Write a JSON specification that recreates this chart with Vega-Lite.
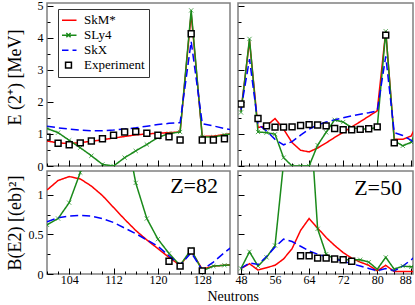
{
  "$schema": "https://vega.github.io/schema/vega-lite/v6.json",
  "padding": {"left": 5, "top": -2, "right": 0, "bottom": 0},
  "bounds": "flush",
  "config": {
    "font": "Liberation Serif",
    "view": {"stroke": "#808080", "strokeWidth": 1.5},
    "axis": {"domain": false, "grid": false, "labelFont": "Liberation Serif", "labelFontSize": 12, "labelColor": "#000", "tickColor": "#000", "tickWidth": 1, "titleFont": "Liberation Serif", "titleFontWeight": "normal", "titleColor": "#000", "labelOverlap": false, "labelFlush": false, "labelBound": false, "tickCount": 100},
    "legend": {"labelFont": "Liberation Serif", "labelFontSize": 13, "labelColor": "#000"},
    "title": {"font": "Liberation Serif", "fontWeight": "normal", "fontSize": 22, "color": "#000"}
  },
  "datasets": {
    "tl": [
      {"s":"SkM*","N":100,"v":0.78},{"s":"SkM*","N":102,"v":0.72},{"s":"SkM*","N":104,"v":0.70},{"s":"SkM*","N":106,"v":0.73},{"s":"SkM*","N":108,"v":0.77},{"s":"SkM*","N":110,"v":0.82},{"s":"SkM*","N":112,"v":0.87},{"s":"SkM*","N":114,"v":0.92},{"s":"SkM*","N":116,"v":0.97},{"s":"SkM*","N":118,"v":1.0},{"s":"SkM*","N":120,"v":1.02},{"s":"SkM*","N":122,"v":1.04},{"s":"SkM*","N":124,"v":1.06},{"s":"SkM*","N":126,"v":4.75},{"s":"SkM*","N":128,"v":0.92},{"s":"SkM*","N":130,"v":0.93},{"s":"SkM*","N":132,"v":0.98},{"s":"SkM*","N":134,"v":1.02},
      {"s":"SLy4","N":100,"v":1.17},{"s":"SLy4","N":102,"v":1.04},{"s":"SLy4","N":104,"v":0.8},{"s":"SLy4","N":106,"v":0.57},{"s":"SLy4","N":108,"v":0.32},{"s":"SLy4","N":110,"v":0.05},{"s":"SLy4","N":112,"v":0.0},{"s":"SLy4","N":114,"v":0.26},{"s":"SLy4","N":116,"v":0.47},{"s":"SLy4","N":118,"v":0.67},{"s":"SLy4","N":120,"v":0.89},{"s":"SLy4","N":122,"v":1.01},{"s":"SLy4","N":124,"v":1.06},{"s":"SLy4","N":126,"v":4.85},{"s":"SLy4","N":128,"v":0.9},{"s":"SLy4","N":130,"v":0.9},{"s":"SLy4","N":132,"v":0.97},{"s":"SLy4","N":134,"v":1.02},
      {"s":"SkX","N":100,"v":1.24},{"s":"SkX","N":102,"v":1.19},{"s":"SkX","N":104,"v":1.15},{"s":"SkX","N":106,"v":1.12},{"s":"SkX","N":108,"v":1.1},{"s":"SkX","N":110,"v":1.1},{"s":"SkX","N":112,"v":1.12},{"s":"SkX","N":114,"v":1.15},{"s":"SkX","N":116,"v":1.19},{"s":"SkX","N":118,"v":1.24},{"s":"SkX","N":120,"v":1.29},{"s":"SkX","N":122,"v":1.33},{"s":"SkX","N":124,"v":1.35},{"s":"SkX","N":126,"v":3.88},{"s":"SkX","N":128,"v":1.32},{"s":"SkX","N":130,"v":1.25},{"s":"SkX","N":132,"v":1.17},{"s":"SkX","N":134,"v":1.1},
      {"s":"Experiment","N":100,"v":0.9},{"s":"Experiment","N":102,"v":0.71},{"s":"Experiment","N":104,"v":0.66},{"s":"Experiment","N":106,"v":0.72},{"s":"Experiment","N":108,"v":0.78},{"s":"Experiment","N":110,"v":0.85},{"s":"Experiment","N":112,"v":0.96},{"s":"Experiment","N":114,"v":1.06},{"s":"Experiment","N":116,"v":1.07},{"s":"Experiment","N":118,"v":1.02},{"s":"Experiment","N":120,"v":0.96},{"s":"Experiment","N":122,"v":0.91},{"s":"Experiment","N":124,"v":0.81},{"s":"Experiment","N":126,"v":4.12},{"s":"Experiment","N":128,"v":0.81},{"s":"Experiment","N":130,"v":0.81},{"s":"Experiment","N":132,"v":0.85}
    ],
    "tr": [
      {"s":"SkM*","N":48,"v":1.72},{"s":"SkM*","N":50,"v":3.9},{"s":"SkM*","N":52,"v":1.2},{"s":"SkM*","N":54,"v":1.25},{"s":"SkM*","N":56,"v":1.48},{"s":"SkM*","N":58,"v":1.15},{"s":"SkM*","N":60,"v":0.73},{"s":"SkM*","N":62,"v":0.49},{"s":"SkM*","N":64,"v":0.44},{"s":"SkM*","N":66,"v":0.56},{"s":"SkM*","N":68,"v":0.72},{"s":"SkM*","N":70,"v":0.89},{"s":"SkM*","N":72,"v":1.05},{"s":"SkM*","N":74,"v":1.22},{"s":"SkM*","N":76,"v":1.38},{"s":"SkM*","N":78,"v":1.55},{"s":"SkM*","N":80,"v":1.72},{"s":"SkM*","N":82,"v":4.2},{"s":"SkM*","N":84,"v":0.83},{"s":"SkM*","N":86,"v":0.83},{"s":"SkM*","N":88,"v":0.94},{"s":"SkM*","N":90,"v":1.5},
      {"s":"SLy4","N":48,"v":1.67},{"s":"SLy4","N":50,"v":3.96},{"s":"SLy4","N":52,"v":1.06},{"s":"SLy4","N":54,"v":1.04},{"s":"SLy4","N":56,"v":0.99},{"s":"SLy4","N":58,"v":0.26},{"s":"SLy4","N":60,"v":0.0},{"s":"SLy4","N":62,"v":0.0},{"s":"SLy4","N":64,"v":0.0},{"s":"SLy4","N":66,"v":0.65},{"s":"SLy4","N":68,"v":1.05},{"s":"SLy4","N":70,"v":1.44},{"s":"SLy4","N":72,"v":1.37},{"s":"SLy4","N":74,"v":1.2},{"s":"SLy4","N":76,"v":1.15},{"s":"SLy4","N":78,"v":1.15},{"s":"SLy4","N":80,"v":1.2},{"s":"SLy4","N":82,"v":4.2},{"s":"SLy4","N":84,"v":0.78},{"s":"SLy4","N":86,"v":0.63},{"s":"SLy4","N":88,"v":0.74},{"s":"SLy4","N":90,"v":1.4},
      {"s":"SkX","N":48,"v":1.76},{"s":"SkX","N":50,"v":3.33},{"s":"SkX","N":52,"v":1.3},{"s":"SkX","N":54,"v":1.09},{"s":"SkX","N":56,"v":0.83},{"s":"SkX","N":58,"v":0.66},{"s":"SkX","N":60,"v":0.76},{"s":"SkX","N":62,"v":0.96},{"s":"SkX","N":64,"v":1.15},{"s":"SkX","N":66,"v":1.28},{"s":"SkX","N":68,"v":1.37},{"s":"SkX","N":70,"v":1.44},{"s":"SkX","N":72,"v":1.5},{"s":"SkX","N":74,"v":1.56},{"s":"SkX","N":76,"v":1.61},{"s":"SkX","N":78,"v":1.66},{"s":"SkX","N":80,"v":1.72},{"s":"SkX","N":82,"v":3.42},{"s":"SkX","N":84,"v":1.04},{"s":"SkX","N":86,"v":0.95},{"s":"SkX","N":88,"v":0.8},{"s":"SkX","N":90,"v":0.6},
      {"s":"Experiment","N":48,"v":1.93},{"s":"Experiment","N":52,"v":1.48},{"s":"Experiment","N":54,"v":1.25},{"s":"Experiment","N":56,"v":1.21},{"s":"Experiment","N":58,"v":1.21},{"s":"Experiment","N":60,"v":1.22},{"s":"Experiment","N":62,"v":1.26},{"s":"Experiment","N":64,"v":1.29},{"s":"Experiment","N":66,"v":1.28},{"s":"Experiment","N":68,"v":1.25},{"s":"Experiment","N":70,"v":1.17},{"s":"Experiment","N":72,"v":1.13},{"s":"Experiment","N":74,"v":1.13},{"s":"Experiment","N":76,"v":1.14},{"s":"Experiment","N":78,"v":1.16},{"s":"Experiment","N":80,"v":1.22},{"s":"Experiment","N":82,"v":4.08},{"s":"Experiment","N":84,"v":0.72}
    ],
    "bl": [
      {"s":"SkM*","N":100,"v":1.06},{"s":"SkM*","N":102,"v":1.18},{"s":"SkM*","N":104,"v":1.23},{"s":"SkM*","N":106,"v":1.2},{"s":"SkM*","N":108,"v":1.11},{"s":"SkM*","N":110,"v":0.99},{"s":"SkM*","N":112,"v":0.84},{"s":"SkM*","N":114,"v":0.69},{"s":"SkM*","N":116,"v":0.55},{"s":"SkM*","N":118,"v":0.43},{"s":"SkM*","N":120,"v":0.32},{"s":"SkM*","N":122,"v":0.21},{"s":"SkM*","N":124,"v":0.11},{"s":"SkM*","N":126,"v":0.29},{"s":"SkM*","N":128,"v":0.06},{"s":"SkM*","N":130,"v":0.1},{"s":"SkM*","N":132,"v":0.11},{"s":"SkM*","N":134,"v":0.12},
      {"s":"SLy4","N":100,"v":0.62},{"s":"SLy4","N":102,"v":0.7},{"s":"SLy4","N":104,"v":0.9},{"s":"SLy4","N":106,"v":1.28},{"s":"SLy4","N":108,"v":3.0},{"s":"SLy4","N":110,"v":4.0},{"s":"SLy4","N":112,"v":4.0},{"s":"SLy4","N":114,"v":1.9},{"s":"SLy4","N":116,"v":1.15},{"s":"SLy4","N":118,"v":0.7},{"s":"SLy4","N":120,"v":0.44},{"s":"SLy4","N":122,"v":0.26},{"s":"SLy4","N":124,"v":0.11},{"s":"SLy4","N":126,"v":0.31},{"s":"SLy4","N":128,"v":0.04},{"s":"SLy4","N":130,"v":0.1},{"s":"SLy4","N":132,"v":0.11},{"s":"SLy4","N":134,"v":0.12},
      {"s":"SkX","N":100,"v":0.66},{"s":"SkX","N":102,"v":0.71},{"s":"SkX","N":104,"v":0.73},{"s":"SkX","N":106,"v":0.74},{"s":"SkX","N":108,"v":0.73},{"s":"SkX","N":110,"v":0.7},{"s":"SkX","N":112,"v":0.65},{"s":"SkX","N":114,"v":0.58},{"s":"SkX","N":116,"v":0.51},{"s":"SkX","N":118,"v":0.43},{"s":"SkX","N":120,"v":0.35},{"s":"SkX","N":122,"v":0.23},{"s":"SkX","N":124,"v":0.11},{"s":"SkX","N":126,"v":0.27},{"s":"SkX","N":128,"v":0.05},{"s":"SkX","N":130,"v":0.15},{"s":"SkX","N":132,"v":0.27},{"s":"SkX","N":134,"v":0.38},
      {"s":"Experiment","N":122,"v":0.16},{"s":"Experiment","N":124,"v":0.1},{"s":"Experiment","N":126,"v":0.29},{"s":"Experiment","N":128,"v":0.04}
    ],
    "br": [
      {"s":"SkM*","N":48,"v":0.07},{"s":"SkM*","N":50,"v":0.13},{"s":"SkM*","N":52,"v":0.05},{"s":"SkM*","N":54,"v":0.08},{"s":"SkM*","N":56,"v":0.11},{"s":"SkM*","N":58,"v":0.19},{"s":"SkM*","N":60,"v":0.32},{"s":"SkM*","N":62,"v":0.55},{"s":"SkM*","N":64,"v":0.7},{"s":"SkM*","N":66,"v":0.58},{"s":"SkM*","N":68,"v":0.46},{"s":"SkM*","N":70,"v":0.36},{"s":"SkM*","N":72,"v":0.27},{"s":"SkM*","N":74,"v":0.2},{"s":"SkM*","N":76,"v":0.15},{"s":"SkM*","N":78,"v":0.11},{"s":"SkM*","N":80,"v":0.04},{"s":"SkM*","N":82,"v":0.11},{"s":"SkM*","N":84,"v":0.03},{"s":"SkM*","N":86,"v":0.03},{"s":"SkM*","N":88,"v":0.03},{"s":"SkM*","N":90,"v":0.03},
      {"s":"SLy4","N":48,"v":0.07},{"s":"SLy4","N":50,"v":0.28},{"s":"SLy4","N":52,"v":0.1},{"s":"SLy4","N":54,"v":0.21},{"s":"SLy4","N":56,"v":0.36},{"s":"SLy4","N":58,"v":1.4},{"s":"SLy4","N":60,"v":3.0},{"s":"SLy4","N":62,"v":3.0},{"s":"SLy4","N":64,"v":2.2},{"s":"SLy4","N":66,"v":0.57},{"s":"SLy4","N":68,"v":0.25},{"s":"SLy4","N":70,"v":0.19},{"s":"SLy4","N":72,"v":0.18},{"s":"SLy4","N":74,"v":0.18},{"s":"SLy4","N":76,"v":0.18},{"s":"SLy4","N":78,"v":0.15},{"s":"SLy4","N":80,"v":0.06},{"s":"SLy4","N":82,"v":0.21},{"s":"SLy4","N":84,"v":0.06},{"s":"SLy4","N":86,"v":0.1},{"s":"SLy4","N":88,"v":0.09},{"s":"SLy4","N":90,"v":0.09},
      {"s":"SkX","N":48,"v":0.07},{"s":"SkX","N":50,"v":0.14},{"s":"SkX","N":52,"v":0.12},{"s":"SkX","N":54,"v":0.22},{"s":"SkX","N":56,"v":0.34},{"s":"SkX","N":58,"v":0.44},{"s":"SkX","N":60,"v":0.41},{"s":"SkX","N":62,"v":0.35},{"s":"SkX","N":64,"v":0.29},{"s":"SkX","N":66,"v":0.25},{"s":"SkX","N":68,"v":0.22},{"s":"SkX","N":70,"v":0.19},{"s":"SkX","N":72,"v":0.16},{"s":"SkX","N":74,"v":0.13},{"s":"SkX","N":76,"v":0.1},{"s":"SkX","N":78,"v":0.07},{"s":"SkX","N":80,"v":0.04},{"s":"SkX","N":82,"v":0.07},{"s":"SkX","N":84,"v":0.04},{"s":"SkX","N":86,"v":0.1},{"s":"SkX","N":88,"v":0.18},{"s":"SkX","N":90,"v":0.28},
      {"s":"Experiment","N":62,"v":0.23},{"s":"Experiment","N":64,"v":0.23},{"s":"Experiment","N":66,"v":0.2},{"s":"Experiment","N":68,"v":0.2},{"s":"Experiment","N":70,"v":0.19},{"s":"Experiment","N":72,"v":0.18},{"s":"Experiment","N":74,"v":0.16}
    ]
  },
  "columns": 2,
  "spacing": {"row": 5, "column": 8},
  "concat": [
    {
      "width": 183, "height": 163,
      "data": {"name": "tl"},
      "layer": [
        {"transform": [{"filter": "datum.s !== 'Experiment'"}],
         "mark": {"type": "line", "clip": true, "strokeWidth": 1.5},
         "encoding": {
           "x": {"field": "N", "type": "quantitative", "scale": {"domain": [100, 133], "nice": false, "zero": false},
                 "axis": {"values": [100,102,104,106,108,110,112,114,116,118,120,122,124,126,128,130,132], "tickCount": 100, "labels": false, "title": null, "labelOverlap": false,
                          "tickSize": {"condition": {"test": "datum.value % 8 === 0", "value": -6}, "value": -3}}},
           "y": {"field": "v", "type": "quantitative", "scale": {"domain": [0, 5.08], "nice": false},
                 "axis": {"values": [0,0.5,1,1.5,2,2.5,3,3.5,4,4.5,5], "tickCount": 100, "format": "~g", "labelOverlap": false, "labelExpr": "datum.value % 1 === 0 ? datum.label : ''", "labelPadding": 10,
                          "tickSize": {"condition": {"test": "datum.value % 1 === 0", "value": -6}, "value": -3},
                          "title": "E (2⁺) [MeV]", "titleFontSize": 18, "titleX": -27, "titleY": 74, "titleBaseline": "alphabetic"}},
           "color": {"field": "s", "type": "nominal", "scale": {"domain": ["SkM*", "SLy4", "SkX", "Experiment"], "range": ["#ff0000", "#1a8a1a", "#0000ff", "#000000"]},
                     "legend": {"orient": "none", "legendX": 11, "legendY": 6, "title": null, "strokeColor": "#333333", "fillColor": "#ffffff", "padding": 4, "symbolSize": 114, "symbolStrokeWidth": 1.5, "rowPadding": 0, "clipHeight": 14.3, "labelOffset": 9, "labelFontSize": 13}},
           "strokeDash": {"field": "s", "type": "nominal", "scale": {"domain": ["SkM*", "SLy4", "SkX", "Experiment"], "range": [[1, 0], [1, 0], [8, 4], [1, 0]]},
                     "legend": {"orient": "none", "legendX": 11, "legendY": 6, "title": null, "strokeColor": "#333333", "fillColor": "#ffffff", "padding": 4, "symbolSize": 114, "symbolStrokeWidth": 1.5, "rowPadding": 0, "clipHeight": 14.3, "labelOffset": 9, "labelFontSize": 13}}
         }},
        {"transform": [{"filter": "datum.s === 'SLy4'"}],
         "mark": {"type": "point", "shape": "M-1,-1L1,1M-1,1L1,-1", "size": 18, "strokeWidth": 1, "color": "#1a8a1a", "filled": false, "clip": true},
         "encoding": {"x": {"field": "N", "type": "quantitative"}, "y": {"field": "v", "type": "quantitative"}}},
        {"transform": [{"filter": "datum.s === 'Experiment'"}],
         "mark": {"type": "point", "filled": false, "strokeWidth": 1.5, "size": 115, "clip": true, "fill": "#ffffff", "fillOpacity": 1},
         "encoding": {"x": {"field": "N", "type": "quantitative"}, "y": {"field": "v", "type": "quantitative"},
           "color": {"field": "s", "type": "nominal"},
           "shape": {"field": "s", "type": "nominal", "scale": {"domain": ["SkM*", "SLy4", "SkX", "Experiment"], "range": ["M-1.5,0H1.5", "M-1.5,0H1.5M-0.4,-0.4L0.4,0.4M-0.4,0.4L0.4,-0.4", "M-1.5,0H1.5", "M-0.55,-0.55H0.55V0.55H-0.55Z"]},
                     "legend": {"orient": "none", "legendX": 11, "legendY": 6, "title": null, "strokeColor": "#333333", "fillColor": "#ffffff", "padding": 4, "symbolSize": 114, "symbolStrokeWidth": 1.5, "rowPadding": 0, "clipHeight": 14.3, "labelOffset": 9, "labelFontSize": 13}}}}
      ]
    },
    {
      "width": 175, "height": 163,
      "data": {"name": "tr"},
      "layer": [
        {"transform": [{"filter": "datum.s !== 'Experiment'"}],
         "mark": {"type": "line", "clip": true, "strokeWidth": 1.5},
         "encoding": {
           "x": {"field": "N", "type": "quantitative", "scale": {"domain": [47.3, 88.4], "nice": false, "zero": false},
                 "axis": {"values": [48,50,52,54,56,58,60,62,64,66,68,70,72,74,76,78,80,82,84,86,88], "tickCount": 100, "labels": false, "title": null,
                          "tickSize": {"condition": {"test": "datum.value % 8 === 0", "value": -6}, "value": -3}}},
           "y": {"field": "v", "type": "quantitative", "scale": {"domain": [0, 5.08], "nice": false},
                 "axis": {"values": [0,0.5,1,1.5,2,2.5,3,3.5,4,4.5,5], "tickCount": 100, "labels": false, "title": null,
                          "tickSize": {"condition": {"test": "datum.value % 1 === 0", "value": -6}, "value": -3}}},
           "color": {"field": "s", "type": "nominal", "scale": {"domain": ["SkM*", "SLy4", "SkX", "Experiment"], "range": ["#ff0000", "#1a8a1a", "#0000ff", "#000000"]}, "legend": null},
           "strokeDash": {"field": "s", "type": "nominal", "scale": {"domain": ["SkM*", "SLy4", "SkX", "Experiment"], "range": [[1, 0], [1, 0], [8, 4], [1, 0]]}, "legend": null}
         }},
        {"transform": [{"filter": "datum.s === 'SLy4'"}],
         "mark": {"type": "point", "shape": "M-1,-1L1,1M-1,1L1,-1", "size": 18, "strokeWidth": 1, "color": "#1a8a1a", "filled": false, "clip": true},
         "encoding": {"x": {"field": "N", "type": "quantitative"}, "y": {"field": "v", "type": "quantitative"}}},
        {"transform": [{"filter": "datum.s === 'Experiment'"}],
         "mark": {"type": "point", "filled": false, "strokeWidth": 1.5, "size": 115, "clip": true, "fill": "#ffffff", "fillOpacity": 1, "stroke": "#000000", "shape": "M-0.55,-0.55H0.55V0.55H-0.55Z"},
         "encoding": {"x": {"field": "N", "type": "quantitative"}, "y": {"field": "v", "type": "quantitative"}}}
      ]
    },
    {
      "width": 183, "height": 103,
      "data": {"name": "bl"},
      "title": {"text": "Z=82", "anchor": "end", "offset": -29, "dx": -12},
      "layer": [
        {"transform": [{"filter": "datum.s !== 'Experiment'"}],
         "mark": {"type": "line", "clip": true, "strokeWidth": 1.5},
         "encoding": {
           "x": {"field": "N", "type": "quantitative", "scale": {"domain": [100, 133], "nice": false, "zero": false},
                 "axis": {"values": [100,102,104,106,108,110,112,114,116,118,120,122,124,126,128,130,132], "tickCount": 100, "format": "d", "labelOverlap": false, "labelExpr": "datum.value % 8 === 0 ? datum.label : ''", "labelPadding": 6, "title": null,
                          "tickSize": {"condition": {"test": "datum.value % 8 === 0", "value": -6}, "value": -3}}},
           "y": {"field": "v", "type": "quantitative", "scale": {"domain": [0, 1.3], "nice": false},
                 "axis": {"values": [0,0.25,0.5,0.75,1,1.25], "tickCount": 100, "format": "~g", "labelOverlap": false, "labelExpr": "datum.value % 0.5 === 0 ? datum.label : ''", "labelPadding": 10,
                          "tickSize": {"condition": {"test": "datum.value % 0.5 === 0", "value": -6}, "value": -3},
                          "title": "B(E2) [(eb)²]", "titleFontSize": 18, "titleX": -27, "titleBaseline": "alphabetic"}},
           "color": {"field": "s", "type": "nominal", "scale": {"domain": ["SkM*", "SLy4", "SkX", "Experiment"], "range": ["#ff0000", "#1a8a1a", "#0000ff", "#000000"]}, "legend": null},
           "strokeDash": {"field": "s", "type": "nominal", "scale": {"domain": ["SkM*", "SLy4", "SkX", "Experiment"], "range": [[1, 0], [1, 0], [8, 4], [1, 0]]}, "legend": null}
         }},
        {"transform": [{"filter": "datum.s === 'SLy4'"}],
         "mark": {"type": "point", "shape": "M-1,-1L1,1M-1,1L1,-1", "size": 18, "strokeWidth": 1, "color": "#1a8a1a", "filled": false, "clip": true},
         "encoding": {"x": {"field": "N", "type": "quantitative"}, "y": {"field": "v", "type": "quantitative"}}},
        {"transform": [{"filter": "datum.s === 'Experiment'"}],
         "mark": {"type": "point", "filled": false, "strokeWidth": 1.5, "size": 115, "clip": true, "fill": "#ffffff", "fillOpacity": 1, "stroke": "#000000", "shape": "M-0.55,-0.55H0.55V0.55H-0.55Z"},
         "encoding": {"x": {"field": "N", "type": "quantitative"}, "y": {"field": "v", "type": "quantitative"}}}
      ]
    },
    {
      "width": 175, "height": 103,
      "data": {"name": "br"},
      "title": {"text": "Z=50", "anchor": "end", "offset": -29, "dx": -11},
      "layer": [
        {"transform": [{"filter": "datum.s !== 'Experiment'"}],
         "mark": {"type": "line", "clip": true, "strokeWidth": 1.5},
         "encoding": {
           "x": {"field": "N", "type": "quantitative", "scale": {"domain": [47.3, 88.4], "nice": false, "zero": false},
                 "axis": {"values": [48,50,52,54,56,58,60,62,64,66,68,70,72,74,76,78,80,82,84,86,88], "tickCount": 100, "format": "d", "labelOverlap": false, "labelExpr": "datum.value % 8 === 0 ? datum.label : ''", "labelPadding": 6,
                          "labelAlign": {"condition": {"test": "datum.value === 88", "value": "right"}, "value": "center"},
                          "tickSize": {"condition": {"test": "datum.value % 8 === 0", "value": -6}, "value": -3},
                          "title": "Neutrons", "titleFontSize": 14, "titleX": -31, "titleY": 26, "titleAlign": "left", "titleAnchor": "start", "titleBaseline": "alphabetic"}},
           "y": {"field": "v", "type": "quantitative", "scale": {"domain": [0, 1.3], "nice": false},
                 "axis": {"values": [0,0.25,0.5,0.75,1,1.25], "tickCount": 100, "labels": false, "title": null,
                          "tickSize": {"condition": {"test": "datum.value % 0.5 === 0", "value": -6}, "value": -3}}},
           "color": {"field": "s", "type": "nominal", "scale": {"domain": ["SkM*", "SLy4", "SkX", "Experiment"], "range": ["#ff0000", "#1a8a1a", "#0000ff", "#000000"]}, "legend": null},
           "strokeDash": {"field": "s", "type": "nominal", "scale": {"domain": ["SkM*", "SLy4", "SkX", "Experiment"], "range": [[1, 0], [1, 0], [8, 4], [1, 0]]}, "legend": null}
         }},
        {"transform": [{"filter": "datum.s === 'SLy4'"}],
         "mark": {"type": "point", "shape": "M-1,-1L1,1M-1,1L1,-1", "size": 18, "strokeWidth": 1, "color": "#1a8a1a", "filled": false, "clip": true},
         "encoding": {"x": {"field": "N", "type": "quantitative"}, "y": {"field": "v", "type": "quantitative"}}},
        {"transform": [{"filter": "datum.s === 'Experiment'"}],
         "mark": {"type": "point", "filled": false, "strokeWidth": 1.5, "size": 115, "clip": true, "fill": "#ffffff", "fillOpacity": 1, "stroke": "#000000", "shape": "M-0.55,-0.55H0.55V0.55H-0.55Z"},
         "encoding": {"x": {"field": "N", "type": "quantitative"}, "y": {"field": "v", "type": "quantitative"}}}
      ]
    }
  ]
}
